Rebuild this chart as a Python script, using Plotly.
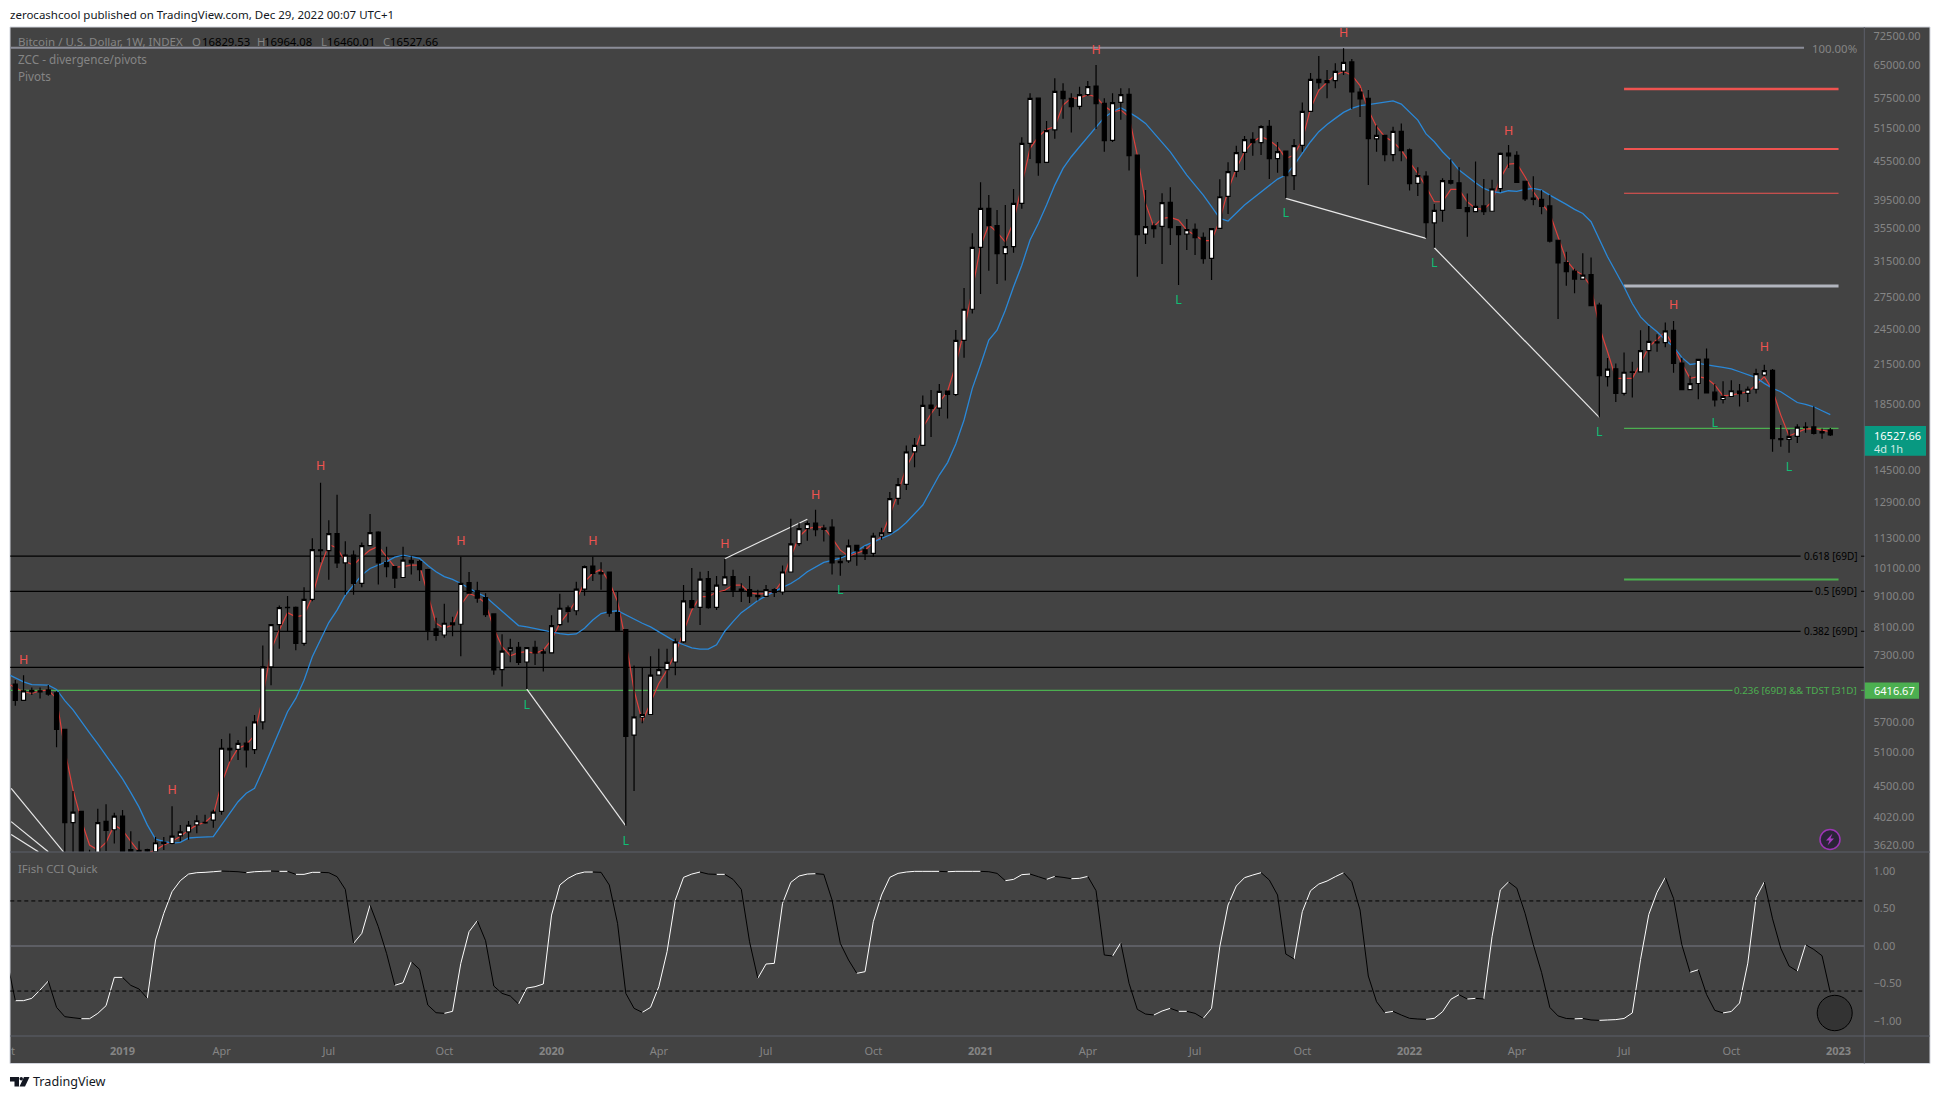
import math
import pandas as pd
import plotly.graph_objects as go

W, H = 1940, 1099
FONT = "Noto Sans"

# ---------- weekly series ----------
dates = pd.date_range("2018-10-01", periods=222, freq="7D")

open_ = [6600,
 6570,6185,6420,6410,6430,6360,5555,3932,4100,3400,
 3200,3950,3830,4030,3560,3550,3560,3530,3660,3640,
 3745,3800,3900,3930,3970,4100,5180,5160,5280,5155,
 5710,7000,8190,8730,8730,7640,8990,10800,10770,11470,
 10290,10590,9540,10970,11540,10300,10150,9750,10390,10340,
 10040,8060,7880,8240,8200,9570,9280,9050,8520,6930,
 7430,7530,7130,7530,7400,7375,8190,8710,8620,9340,
 10170,9930,9950,8560,8040,5440,5810,5870,6790,6930,
 7130,7680,8950,8730,9710,8730,9490,9780,9340,9320,
 9130,9090,9320,9240,9950,11050,11680,11930,11650,11750,
 10300,10370,10980,10800,10660,11370,11510,13070,13770,15530,
 15900,18470,18260,19450,19200,23460,26330,33120,38260,35900,
 32350,33200,38980,48680,57550,45370,51150,59020,57500,55830,
 58300,60200,56450,49230,56650,58370,46620,34780,35850,35800,
 39130,35750,34770,35410,34380,31790,35530,40000,43890,47080,
 49400,48800,51840,46000,47320,43180,48320,54800,61700,60950,
 61400,63600,65800,58870,57500,49500,50150,46680,50900,47500,
 41960,43130,36250,37980,42390,42050,38380,37790,38600,37850,
 41150,46950,46560,42300,39760,39550,38600,34000,31300,30340,
 29440,29950,26740,20520,21120,19280,20880,20880,22590,23330,
 23270,24350,21570,19550,20000,21900,19370,18850,19060,19450,
 19280,19580,20640,21000,16310,16260,16440,17010,17030,16730,
 16829.53]

high = [6690,
 6667,6790,6490,6490,6545,6400,5560,4420,4110,3557,
 4140,4210,4080,4120,3810,3670,3570,3730,3730,4180,
 3900,3955,4040,4050,4125,5360,5470,5340,5615,5860,
 7580,8200,8790,9100,8760,9400,11275,13850,12050,13250,
 11150,10770,11100,12340,11570,10930,10170,10930,10550,10400,
 10070,8400,8850,8430,10530,9950,9600,9200,8520,7900,
 7770,7680,7530,7710,7490,8480,9180,8790,9600,10190,
 10530,10320,9960,9250,8040,7040,7000,7280,7490,7490,
 7780,9480,10100,9960,9990,9800,10450,10030,9540,9800,
 9320,9480,9370,10190,12120,11940,12010,12530,11850,12100,
 10590,11220,11000,10950,11510,11720,13380,14100,15900,16350,
 19130,19520,19960,19450,24380,28480,34880,42130,40200,38030,
 38740,41100,49780,58580,57550,52870,61930,60790,58580,60050,
 61310,65060,57500,58580,59680,59680,46620,40950,36200,40450,
 41360,35750,36780,36180,34980,35490,42600,45370,48260,50020,
 50700,52060,53070,48930,47320,49470,56650,63190,67270,63880,
 65460,69210,66530,59680,59320,52060,50150,51780,52370,47770,
 44540,43910,38880,42790,45880,44540,40440,45500,42640,42520,
 47060,48360,47280,42300,43100,40920,40250,34000,32590,30600,
 32400,31900,26980,21980,21540,22440,21670,24370,24740,24010,
 25070,25220,22000,20590,21900,22760,19960,20170,20250,19960,
 19770,21120,21430,21100,17150,16830,17200,17320,18390,16930,
 16964.08]

low = [6500,
 6065,6180,6307,6230,6290,5200,3500,3500,3350,3130,
 3200,3540,3640,3430,3400,3450,3400,3500,3552,3630,
 3670,3690,3780,3915,3860,4050,4930,4960,4825,5070,
 5550,6540,7490,7990,7450,7570,8930,10320,9670,10100,
 9150,9150,9400,10960,9500,9760,9380,9750,9860,9620,
 7730,7715,7800,7840,7280,9200,8880,8420,6800,6510,
 7120,7050,6450,7050,6880,7370,8150,8250,8480,9110,
 9620,9320,8430,8020,3885,4420,5680,5870,6790,6470,
 6790,7650,8720,8180,8680,8640,9490,9070,8900,8870,
 8950,9090,9070,9150,9950,10960,11170,11360,11140,9860,
 9810,10290,10180,10400,10530,11210,11500,12770,13480,14670,
 15900,16400,17730,17570,19090,22010,25930,27860,30380,28910,
 29280,32470,38200,45920,43180,45370,49530,53330,50650,55200,
 58000,51330,47200,48900,53130,44000,29710,33530,34300,31130,
 33410,28800,32790,32190,31170,29350,35530,37470,42920,44100,
 46500,46620,42660,43670,39710,40950,47200,54650,59600,57500,
 59680,62700,55280,53660,41720,47200,45540,45540,45540,40880,
 40050,34240,33070,36420,41800,38200,34450,37790,37340,37850,
 40600,44430,42110,39300,38690,37430,33700,25400,28730,27950,
 29380,26690,17640,19780,18680,19130,18990,20830,20830,22500,
 22870,20820,19550,19500,18870,19320,18360,18580,19060,18360,
 18670,19270,20540,15540,15820,15480,16040,16660,16550,16300,
 16460.01]

close = [6575,
 6185,6405,6390,6385,6330,5555,3932,4090,3400,3320,
 3932,3820,4030,3500,3500,3530,3540,3650,3640,3740,
 3800,3895,3960,3935,4090,5180,5150,5275,5150,5710,
 7000,8190,8720,8720,7640,8990,10810,10770,11467,10290,
 10590,9540,10970,11510,10290,10150,9730,10400,10290,10040,
 8020,7870,8230,8180,9540,9200,9030,8500,6925,7420,
 7510,7120,7520,7370,7370,8160,8700,8600,9340,10150,
 9900,9880,8540,8020,5410,5820,5870,6790,6930,7120,
 7680,8940,8720,9690,8720,9480,9770,9300,9270,9100,
 9080,9320,9230,9950,11040,11680,11900,11640,11720,10290,
 10350,10960,10760,10650,11360,11500,13060,13750,15530,15900,
 18450,18240,19420,19200,23460,26330,33120,38260,35890,32350,
 33200,38980,48680,57500,45320,51020,59020,57440,55760,58300,
 60050,56390,49160,56590,58300,46500,34710,35750,35500,39080,
 35620,34710,35360,34330,31750,35490,39940,43830,47030,49340,
 48800,51780,45990,47200,43180,48260,54800,61700,60950,61400,
 63560,65700,58870,57370,49530,50150,46680,50890,47380,41920,
 43180,36280,37980,42390,41990,38260,37790,38540,37800,41130,
 46900,46460,42110,39610,39550,38530,33900,31270,30260,29440,
 29880,26690,20590,21090,19280,20850,20830,22590,23380,23250,
 24310,21540,19550,19990,21870,19320,18830,19060,19470,19270,
 19580,20740,20980,16300,16240,16440,17020,16990,16620,16650,
 16527.66]

red_line = [6585,
 6490,6385,6345,6410,6425,6230,5145,4440,3970,3620,
 3552,3655,3900,3825,3670,3530,3510,3552,3620,3670,
 3735,3825,3900,3935,4045,4547,4930,5180,5245,5440,
 6270,7450,8030,8560,8430,8480,9080,10150,11020,10880,
 10340,10210,10530,10790,10950,10530,10130,10150,10210,10210,
 9190,8230,8080,8180,8810,9190,9080,8860,8080,7545,
 7295,7380,7410,7360,7450,7740,8230,8550,8970,9590,
 9900,10050,9590,8920,7690,6425,5715,6115,6585,6920,
 7360,7980,8640,9080,9080,9240,9300,9480,9480,9220,
 9170,9190,9240,9650,10530,11340,11680,11760,11740,11280,
 10790,10550,10670,10790,11090,11340,12280,13340,14680,15530,
 17000,17880,18640,19440,21420,24380,28270,33260,36000,35000,
 33800,36400,41700,47780,49880,51260,51770,56100,57560,57560,
 58300,57850,55900,54720,55060,53720,46610,38970,35750,36860,
 37000,36630,35300,34650,33940,33940,36630,40940,44360,47180,
 48970,49880,49260,48070,46030,46610,49260,55400,59230,61040,
 62670,63520,62670,60290,55060,51770,49880,48970,47480,45420,
 43540,41450,39210,39210,41040,41040,39210,38260,38110,39210,
 42760,45080,45190,43010,40690,38970,37550,34440,31590,30440,
 29880,28620,24680,22500,20390,20390,20390,21540,22920,23540,
 24220,22920,21540,20390,20510,20390,19890,19110,19160,19280,
 19400,19890,20510,19520,17790,16470,16700,16900,16920,16840,
 16730]

blue_line = [6825,
 6725,6625,6555,6545,6545,6440,6180,5970,5735,5485,
 5265,5050,4840,4625,4395,4165,3900,3700,3670,3645,
 3655,3715,3725,3730,3735,3900,4070,4250,4385,4465,
 4780,5145,5540,5930,6230,6665,7270,7740,8250,8640,
 9130,9480,9840,10080,10210,10340,10510,10590,10530,10470,
 10190,9960,9780,9680,9536,9360,9210,9080,8840,8610,
 8380,8160,8120,8070,8010,7970,7920,7890,7910,8080,
 8330,8530,8590,8620,8480,8350,8230,8120,7970,7830,
 7690,7600,7510,7480,7480,7600,7990,8280,8560,8750,
 8950,9110,9240,9400,9536,9720,9960,10150,10310,10390,
 10470,10600,10760,10970,11130,11270,11410,11640,11950,12360,
 12750,13480,14250,14920,15990,17470,19640,21420,23500,24370,
 26240,28620,31000,34020,36180,38730,41700,44360,46320,48070,
 49880,51770,53590,54720,55540,54590,53590,52410,50500,48850,
 47180,45190,43280,41700,40190,38490,36860,36500,37640,38730,
 39690,40690,41700,42640,43280,44910,46900,48970,50820,52210,
 53390,54590,55400,55970,56170,56440,56730,56950,56300,54720,
 53060,50400,48970,47190,45760,44090,43010,42060,41190,40690,
 40540,40840,40740,41040,41190,40940,40190,39560,38830,38110,
 37550,36410,34020,31980,30260,28620,26900,25600,24830,24220,
 23490,22920,22030,21460,21540,21460,21330,21230,21120,20890,
 20640,20440,20010,19640,19400,19040,18640,18510,18350,18080,
 17820]

cci = [-.19,
 -.728,-.728,-.697,-.586,-.466,-.817,-.941,-.955,-.968,-.968,
 -.897,-.795,-.418,-.418,-.524,-.573,-.697,.08,.435,.723,
 .870,.958,.976,.981,.989,.998,.994,.989,.976,.989,
 .994,.998,.994,.994,.954,.954,.981,.981,.976,.923,
 .754,.035,.168,.546,.257,-.098,-.524,-.489,-.209,-.311,
 -.786,-.888,-.897,-.870,-.231,.191,.337,.071,-.533,-.631,
 -.666,-.773,-.560,-.542,-.506,.412,.812,.901,.958,.985,
 .985,.981,.812,.301,-.631,-.830,-.884,-.817,-.542,-.076,
 .612,.914,.958,.985,.958,.954,.954,.887,.754,.057,
 -.431,-.240,-.231,.568,.847,.932,.958,.963,.954,.612,
 .035,-.187,-.364,-.342,.324,.679,.914,.967,.985,.994,
 .994,.994,.994,.989,.994,.994,.994,.994,.989,.967,
 .870,.887,.950,.958,.923,.887,.927,.914,.896,.901,
 .927,.736,-.120,-.133,.044,-.497,-.844,-.906,-.919,-.866,
 -.830,-.870,-.870,-.897,-.963,-.830,-.009,.546,.799,.910,
 .945,.976,.879,.679,-.107,-.173,.457,.736,.825,.865,
 .923,.976,.856,.479,-.400,-.742,-.888,-.870,-.919,-.963,
 -.972,-.977,-.963,-.875,-.710,-.648,-.706,-.697,-.706,.124,
 .745,.854,.770,.436,.018,-.351,-.818,-.931,-.965,-.970,
 -.965,-.985,-.990,-.985,-.980,-.965,-.891,-.179,.421,.716,
 .913,.633,.018,-.351,-.316,-.646,-.857,-.891,-.872,-.759,
 -.228,.647,.854,.362,-.031,-.267,-.336,.018,-.046,-.130,
 -.621]

# pivot markers: bar index (first real bar = 1), price at which the letter sits
high_marks_i = [2, 38, 20, 55, 71, 87, 98, 132, 162, 182, 202, 213]
high_marks_p = [7165, 14700, 4427, 11130, 11130, 10996, 13200, 68600, 72980, 50830, 26680, 22780]
low_marks_i = [63, 75, 101, 142, 155, 173, 193, 207, 216]
low_marks_p = [6065, 3665, 9285, 27180, 37420, 31130, 16630, 17200, 14640]

# white trend segments
seg_dates = [
 ["2018-10-04 12:00", "2018-11-17 20:00"],
 ["2018-10-04 12:00", "2018-11-05"],
 ["2018-10-04 12:00", "2018-10-27 14:00"],
 ["2019-12-16", "2020-03-09"],
 ["2020-06-01", "2020-08-10"],
 ["2021-09-20", "2022-01-17"],
 ["2022-01-24", "2022-06-13"],
]
seg_prices = [[4466, 3530], [3947, 3530], [3765, 3530], [6450, 3885], [10450, 12100], [39710, 34240], [33070, 17640]]

# horizontal levels
fib_levels = [10550, 9263, 7984, 6990, 6416.67]
fib_ends = ["2022-11-30 19:00", "2022-12-11 02:00", "2022-11-30 19:00", "2023-03-01", "2022-10-04 02:00"]
fib_names = ["0.618 [69D]", "0.5 [69D]", "0.382 [69D]", "", "0.236 [69D] && TDST [31D]"]
top_level = 69360
top_end = "2022-12-03 17:00"
pivot_start, pivot_end = "2022-07-04", "2023-01-02"
pivot_levels = [59530, 47670, 40460, 28700, 16940, 9677]

y_ticks = [72500, 65000, 57500, 51500, 45500, 39500, 35500, 31500, 27500, 24500, 21500, 18500,
           14500, 12900, 11300, 10100, 9100, 8100, 7300, 5700, 5100, 4500, 4020, 3620]
cci_ticks = [1, 0.5, 0, -0.5, -1]
cci_labels = ["1.00", "0.50", "0.00", "−0.50", "−1.00"]
x_tick_vals = ["2019-01-07", "2019-04-01", "2019-07-01", "2019-10-07", "2020-01-06", "2020-04-06", "2020-07-06",
               "2020-10-05", "2021-01-04", "2021-04-05", "2021-07-05", "2021-10-04", "2022-01-03", "2022-04-04",
               "2022-07-04", "2022-10-03", "2023-01-02"]
x_tick_text = ["<b>2019</b>", "Apr", "Jul", "Oct", "<b>2020</b>", "Apr", "Jul", "Oct", "<b>2021</b>", "Apr", "Jul",
               "Oct", "<b>2022</b>", "Apr", "Jul", "Oct", "<b>2023</b>"]

# ---------- layout helpers ----------
BG = "#434343"
GREY = "#858585"
SEP = "#5d606b"
GREEN = "#4caf50"
RED = "#ef5350"
LGREEN = "#10bd75"
LEFT, RIGHT = 10.3, 1864.3
TOP, MID, BOT = 28.0, 852.0, 1036.0


def X(px):
    return px / W


def Y(py):
    return 1 - py / H


def note(px, py, text, color=GREY, size=11, xanchor="left", font=FONT):
    return dict(x=X(px), y=Y(py), xref="paper", yref="paper", text=text, showarrow=False, xanchor=xanchor,
                yanchor="middle", align="left", font=dict(family=font, size=size, color=color),
                xshift=0, yshift=0, borderpad=0, borderwidth=0)


def rect(x0, y0, x1, y1, fill=None, line=None, width=1, kind="rect"):
    return dict(type=kind, xref="paper", yref="paper", x0=X(x0), x1=X(x1), y0=Y(y0), y1=Y(y1),
                fillcolor=fill if fill else "rgba(0,0,0,0)",
                line=dict(color=line if line else "rgba(0,0,0,0)", width=width if line else 0), layer="below")


def seg(x0, y0, x1, y1, color, width=1, layer="above"):
    return dict(type="line", xref="paper", yref="paper", x0=X(x0), x1=X(x1), y0=Y(y0), y1=Y(y1),
                line=dict(color=color, width=width), layer=layer)


def poly(points, fill, layer="above"):
    d = "M " + " L ".join(f"{X(a):.5f},{Y(b):.5f}" for a, b in points) + " Z"
    return dict(type="path", xref="paper", yref="paper", path=d, fillcolor=fill, line=dict(width=0), layer=layer)


# ---------- traces ----------
fig = go.Figure()
for lv, end in zip(fib_levels, fib_ends):
    col = GREEN if lv == fib_levels[-1] else "#000000"
    fig.add_trace(go.Scatter(x=["2018-08-01", end], y=[lv, lv], mode="lines", line=dict(color=col, width=1.2 if col != "#000000" else 1.3),
                             hoverinfo="skip"))
fig.add_trace(go.Scatter(x=["2018-08-01", top_end], y=[top_level, top_level], mode="lines",
                         line=dict(color="#8b8d98", width=2), hoverinfo="skip"))
piv_cols = [RED, RED, RED, "#b2b5be", GREEN, GREEN]
piv_w = [2.4, 2, 1.2, 3, 1.2, 2]
for lv, c, w in zip(pivot_levels, piv_cols, piv_w):
    fig.add_trace(go.Scatter(x=[pivot_start, pivot_end], y=[lv, lv], mode="lines", line=dict(color=c, width=w),
                             hoverinfo="skip"))
for d, p in zip(seg_dates, seg_prices):
    fig.add_trace(go.Scatter(x=d, y=p, mode="lines", line=dict(color="#e8e8e8", width=1.2), hoverinfo="skip"))
fig.add_trace(go.Scatter(x=dates, y=red_line, mode="lines", line=dict(color="#e0403c", width=1.2), hoverinfo="skip"))
fig.add_trace(go.Scatter(x=dates, y=blue_line, mode="lines", line=dict(color="#2a88d8", width=1.3), hoverinfo="skip"))
fig.add_trace(go.Scatter(x=[dates[i] for i in high_marks_i], y=high_marks_p, mode="text", text=["H"] * len(high_marks_i),
                         textposition="middle center", textfont=dict(family=FONT, size=12.5, color=RED), hoverinfo="skip"))
fig.add_trace(go.Scatter(x=[dates[i] for i in low_marks_i], y=low_marks_p, mode="text", text=["L"] * len(low_marks_i),
                         textposition="middle center", textfont=dict(family=FONT, size=12.5, color=LGREEN), hoverinfo="skip"))

fig.add_trace(go.Candlestick(x=dates, open=open_, high=high, low=low, close=close, yaxis="y3", whiskerwidth=0,
                             increasing=dict(line=dict(color="#000000", width=1.2), fillcolor="#ffffff"),
                             decreasing=dict(line=dict(color="#000000", width=1.2), fillcolor="#000000"),
                             hoverinfo="skip"))

# indicator: white while rising, black while falling
up_x, up_y, dn_x, dn_y = [], [], [], []
for k in range(1, len(cci)):
    xs, ys = (up_x, up_y) if cci[k] >= cci[k - 1] else (dn_x, dn_y)
    xs += [dates[k - 1], dates[k], None]
    ys += [cci[k - 1], cci[k], None]
fig.add_trace(go.Scatter(x=up_x, y=up_y, yaxis="y2", mode="lines", line=dict(color="#ffffff", width=1), hoverinfo="skip"))
fig.add_trace(go.Scatter(x=dn_x, y=dn_y, yaxis="y2", mode="lines", line=dict(color="#000000", width=1), hoverinfo="skip"))

# ---------- axes ----------
d0 = dates[1]
week = pd.Timedelta(days=7)
x0 = d0 + week * ((LEFT - 15.3) / 8.25)
x1 = d0 + week * ((RIGHT - 15.3) / 8.25)
log_top = math.log10(3620 * math.exp((845 - TOP) / 270))
log_bot = math.log10(3620 * math.exp((845 - MID) / 270))
main_dom = [Y(MID), Y(TOP)]
cci_top = (946 - MID) / 75.1
cci_bot = (946 - BOT) / 75.1

shapes = [
    rect(10, 27, 1930, 1063.5, fill=BG, line="#d1d4dc", width=1),
    seg(RIGHT, 27, RIGHT, 1063.5, SEP),
    seg(10, MID, 1930, MID, SEP),
    seg(10, BOT, 1930, BOT, SEP),
    dict(type="line", xref="paper", yref="y2", x0=X(LEFT), x1=X(RIGHT), y0=0, y1=0, line=dict(color="#787b86", width=1), layer="below"),
    dict(type="line", xref="paper", yref="y2", x0=X(LEFT), x1=X(RIGHT), y0=0.6, y1=0.6, line=dict(color="#000000", width=1, dash="4px,3px"), layer="above"),
    dict(type="line", xref="paper", yref="y2", x0=X(LEFT), x1=X(RIGHT), y0=-0.6, y1=-0.6, line=dict(color="#000000", width=1, dash="4px,3px"), layer="above"),
    # price tags
    rect(RIGHT, 682.5, 1919, 698.7, fill=GREEN),
    rect(RIGHT, 426, 1926, 455.7, fill="#089981"),
    # little ticks beside level names
    seg(1861, 556.2, RIGHT, 556.2, "#000000"),
    seg(1861, 591.3, RIGHT, 591.3, "#000000"),
    seg(1861, 631.3, RIGHT, 631.3, "#000000"),
    seg(1861, 690.3, RIGHT, 690.3, GREEN),
    # round badges
    dict(type="circle", xref="paper", yref="paper", x0=X(1820), x1=X(1840), y0=Y(829.5), y1=Y(849.5),
         fillcolor="#2a2438", line=dict(color="#9c35b5", width=1.5), layer="above"),
    poly([(1832.5, 833.5), (1826, 840.5), (1829.5, 840.5), (1827.5, 845.5), (1834, 838.5), (1830.5, 838.5)], "#a63bc0"),
    dict(type="circle", xref="paper", yref="paper", x0=X(1817.2), x1=X(1852.2), y0=Y(995.3), y1=Y(1030.7),
         fillcolor="#333333", line=dict(color="#000000", width=1), layer="above"),
    # TradingView logo
    poly([(10, 1077), (19, 1077), (19, 1086.5), (14.5, 1086.5), (14.5, 1081.5), (10, 1081.5)], "#131722"),
    dict(type="circle", xref="paper", yref="paper", x0=X(19.5), x1=X(23), y0=Y(1077), y1=Y(1080.5),
         fillcolor="#131722", line=dict(width=0), layer="above"),
    poly([(24, 1077), (29.5, 1077), (25, 1086.5), (19.5, 1086.5)], "#131722"),
]

annotations = [
    note(10, 15, "zerocashcool published on TradingView.com, Dec 29, 2022 00:07 UTC+1", color="#131722", size=11.5),
    note(18, 42, "Bitcoin / U.S. Dollar, 1W, INDEX", size=11.5),
    note(192, 42, "O", size=11.3),
    note(201.7, 42, "16829.53", color="#000000", size=11.3),
    note(256.7, 42, "H", size=11.3),
    note(264, 42, "16964.08", color="#000000", size=11.3),
    note(320.7, 42, "L", size=11.3),
    note(327, 42, "16460.01", color="#000000", size=11.3),
    note(383.3, 42, "C", size=11.3),
    note(389.5, 42, "16527.66", color="#000000", size=11.3),
    note(18, 59.5, "ZCC - divergence/pivots", size=11.7),
    note(18, 76.5, "Pivots", size=11.7),
    note(18, 868, "IFish CCI Quick", size=11.4),
    note(1857, 48, "100.00%", xanchor="right", size=11.4),
    note(1857, 556.3, fib_names[0], color="#000000", xanchor="right", size=10),
    note(1857, 591.4, fib_names[1], color="#000000", xanchor="right", size=10),
    note(1857, 631.4, fib_names[2], color="#000000", xanchor="right", size=10),
    note(1857, 690.4, fib_names[4], color=GREEN, xanchor="right", size=9.8),
    note(1874, 690.6, "6416.67", color="#ffffff", size=11),
    note(1874, 435.5, "16527.66", color="#ffffff", size=11),
    note(1874, 448.5, "4d 1h", color="#cfe9e4", size=11),
    note(10.5, 1050, "t", size=11),
    note(33, 1081.5, "TradingView", color="#131722", size=12.6),
]

fig.update_layout(
    width=W, height=H, autosize=False, margin=dict(l=0, r=0, t=0, b=0, pad=0),
    paper_bgcolor="#ffffff", plot_bgcolor="rgba(0,0,0,0)", showlegend=False,
    font=dict(family=FONT, color=GREY, size=11), hovermode=False,
    xaxis=dict(domain=[X(LEFT), X(RIGHT)], type="date", range=[x0, x1], anchor="y2", showgrid=False, zeroline=False,
               rangeslider=dict(visible=False), tickmode="array", tickvals=x_tick_vals, ticktext=x_tick_text,
               ticks="outside", ticklen=5, tickcolor=BG, tickangle=0, tickfont=dict(family=FONT, size=11, color=GREY),
               showline=False, fixedrange=True),
    yaxis=dict(domain=main_dom, type="log", range=[log_bot, log_top], side="right", anchor="x", showgrid=False,
               zeroline=False, tickmode="array", tickvals=y_ticks, ticktext=[f"{v}.00" for v in y_ticks],
               ticks="outside", ticklen=6, tickcolor=BG, tickfont=dict(family=FONT, size=11, color=GREY), showline=False,
               fixedrange=True),
    yaxis3=dict(domain=main_dom, type="log", range=[log_bot, log_top], side="right", overlaying="y", anchor="x",
                visible=False, showgrid=False, fixedrange=True),
    yaxis2=dict(domain=[Y(BOT), Y(MID)], range=[cci_bot, cci_top], side="right", anchor="x", showgrid=False, zeroline=False,
                tickmode="array", tickvals=cci_ticks, ticktext=cci_labels, ticks="outside", ticklen=6, tickcolor=BG,
                tickfont=dict(family=FONT, size=11, color=GREY), showline=False, fixedrange=True),
    shapes=shapes, annotations=annotations,
)

fig.write_html("out.html", config=dict(displayModeBar=False),
               post_script="document.body.style.margin='0';document.body.style.overflow='hidden';")
